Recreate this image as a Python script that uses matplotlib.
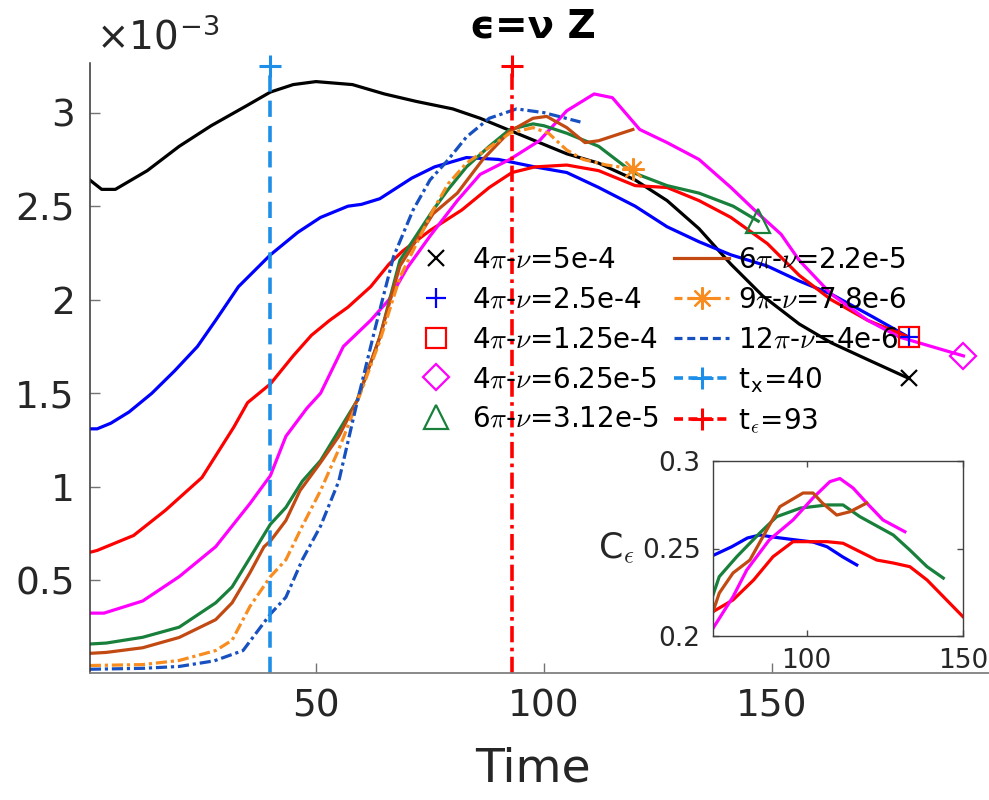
import matplotlib
matplotlib.use('Agg')
import matplotlib.pyplot as plt
from matplotlib.lines import Line2D

plt.rcParams['font.family'] = 'DejaVu Sans'
plt.rcParams['mathtext.fontset'] = 'cm'

# main panel: eps = nu Z versus time, values in units of 1e-3
t_k = [0.4, 3, 6, 13, 20, 27, 35, 40, 45, 50, 58, 65, 72, 80, 86, 92, 99, 105, 112, 120, 127, 134, 141, 148, 156, 163, 171, 180]
z_k = [2.64, 2.59, 2.59, 2.69, 2.82, 2.93, 3.04, 3.11, 3.15, 3.166, 3.15, 3.10, 3.06, 3.02, 2.97, 2.91, 2.84, 2.78, 2.73, 2.64, 2.53, 2.38, 2.19, 2.02, 1.87, 1.77, 1.68, 1.58]

t_b = [0.4, 2, 5, 9, 14, 19, 24, 28, 33, 40, 46, 51, 57, 60, 64, 71, 76, 83, 90, 98, 105, 112, 120, 127, 134, 141, 149, 156, 163, 172, 180]
z_b = [1.31, 1.31, 1.34, 1.40, 1.50, 1.62, 1.75, 1.89, 2.07, 2.24, 2.36, 2.44, 2.50, 2.51, 2.54, 2.65, 2.71, 2.76, 2.75, 2.71, 2.68, 2.60, 2.50, 2.39, 2.31, 2.24, 2.18, 2.10, 2.03, 1.91, 1.80]

t_r = [0.4, 2, 10, 17, 25, 32, 35, 40, 45, 49, 53, 57, 62, 66, 69, 75, 82, 88, 93, 98, 105, 112, 120, 127, 134, 141, 149, 156, 163, 171, 180]
z_r = [0.65, 0.66, 0.74, 0.875, 1.05, 1.32, 1.45, 1.55, 1.70, 1.81, 1.89, 1.96, 2.07, 2.19, 2.26, 2.37, 2.48, 2.60, 2.68, 2.71, 2.72, 2.69, 2.61, 2.60, 2.53, 2.44, 2.30, 2.13, 2.0, 1.89, 1.80]

t_m = [0.4, 3.5, 12, 20, 28, 35.5, 40, 43.4, 48, 51, 56, 62, 66, 70, 75, 81, 86, 92.5, 99, 105, 111, 115, 121, 127, 134, 141, 147, 152, 156, 163, 171, 178, 185, 192]
z_m = [0.325, 0.325, 0.39, 0.52, 0.68, 0.91, 1.06, 1.27, 1.42, 1.50, 1.75, 1.89, 2.0, 2.17, 2.34, 2.53, 2.67, 2.75, 2.85, 3.01, 3.10, 3.08, 2.91, 2.84, 2.75, 2.60, 2.46, 2.35, 2.21, 2.03, 1.89, 1.80, 1.75, 1.70]

t_g = [0.4, 4, 12, 20, 28, 31.6, 35.5, 40, 43.4, 47, 51, 55, 59, 64, 68.4, 75.7, 79, 83, 88, 92.5, 97.6, 100, 105, 112, 119.5, 127, 134, 141.5, 147]
z_g = [0.16, 0.165, 0.196, 0.25, 0.38, 0.465, 0.62, 0.80, 0.89, 1.03, 1.14, 1.30, 1.46, 1.80, 2.21, 2.48, 2.59, 2.71, 2.82, 2.91, 2.94, 2.93, 2.89, 2.82, 2.68, 2.61, 2.57, 2.50, 2.42]

t_br = [0.4, 4, 12, 20, 28, 31.6, 35.5, 38.6, 40, 43.4, 46.5, 51, 55, 59, 64, 68.4, 75.7, 81, 86.6, 92.5, 97.6, 100.6, 105, 109, 112, 119.5]
z_br = [0.11, 0.115, 0.14, 0.195, 0.29, 0.38, 0.54, 0.68, 0.71, 0.82, 0.98, 1.13, 1.27, 1.46, 1.80, 2.18, 2.46, 2.57, 2.75, 2.90, 2.97, 2.98, 2.92, 2.84, 2.85, 2.91]

t_o = [0.4, 12, 20, 28, 31.6, 35.5, 40, 43.4, 47, 51, 55, 59, 64, 68.4, 75.7, 79, 83, 92.5, 97.6, 101, 105, 108.6, 113.7, 119.5]
z_o = [0.045, 0.05, 0.072, 0.125, 0.18, 0.36, 0.52, 0.61, 0.79, 0.98, 1.20, 1.45, 1.78, 2.12, 2.48, 2.62, 2.73, 2.89, 2.92, 2.89, 2.80, 2.75, 2.72, 2.70]

t_db = [0.4, 12, 20, 27.7, 34, 40, 43.4, 47, 51, 55, 59, 63, 67, 71.3, 75, 78.7, 83, 88, 94, 100, 108]
z_db = [0.025, 0.03, 0.04, 0.07, 0.125, 0.32, 0.41, 0.61, 0.79, 1.03, 1.45, 1.85, 2.23, 2.48, 2.64, 2.74, 2.87, 2.97, 3.02, 3.0, 2.95]

T_X = 40
T_EPS = 93
MARK_TOP = 3.25

labels = [r'4$\pi$-$\nu$=5e-4', r'4$\pi$-$\nu$=2.5e-4', r'4$\pi$-$\nu$=1.25e-4',
          r'4$\pi$-$\nu$=6.25e-5', r'6$\pi$-$\nu$=3.12e-5', r'6$\pi$-$\nu$=2.2e-5',
          r'9$\pi$-$\nu$=7.8e-6', r'12$\pi$-$\nu$=4e-6',
          r't$_{\mathregular{x}}$=40', r't$_\epsilon$=93']

# inset: C_eps versus time
ti_b = [70, 76, 81, 85, 89, 96, 102, 106.5, 111.6, 116]
ci_b = [0.246, 0.251, 0.256, 0.2577, 0.2566, 0.255, 0.2537, 0.251, 0.2451, 0.2406]
ti_r = [70, 76.4, 83, 89.2, 95.6, 106.5, 111.6, 117, 122.4, 127.7, 133, 138.5, 143.7, 150]
ci_r = [0.2139, 0.2206, 0.232, 0.2453, 0.2539, 0.2539, 0.253, 0.2482, 0.2434, 0.2417, 0.2396, 0.232, 0.2225, 0.211]
ti_g = [70, 72, 77.6, 85, 90.4, 98, 106.5, 111.6, 117, 127.7, 133, 138.5, 143.7]
ci_g = [0.2234, 0.2339, 0.2453, 0.2589, 0.2682, 0.2731, 0.2749, 0.2749, 0.2682, 0.2577, 0.2491, 0.2396, 0.2331]
ti_m = [70, 76.4, 80.8, 88, 95.6, 102, 107.4, 110.6, 114.8, 119.2, 124.4, 131.4]
ci_m = [0.2044, 0.2224, 0.2377, 0.2549, 0.2663, 0.2789, 0.2882, 0.29, 0.2846, 0.276, 0.2663, 0.2596]
ti_br = [70, 72, 76.4, 81.8, 86, 91.4, 98.8, 102, 105, 109.6, 113.8, 119.2]
ci_br = [0.2139, 0.2245, 0.236, 0.2434, 0.2568, 0.2739, 0.2817, 0.2817, 0.276, 0.2691, 0.271, 0.276]

C_K = '#000000'
C_B = '#0000ff'
C_R = '#ff0000'
C_M = '#ff00ff'
C_G = '#19803c'
C_BR = '#c24a12'
C_O = '#f88c1f'
C_DB = '#1750c0'
C_TX = '#1e8fe8'

LW = 2.3
MEW = 1.6
ASTER = (8, 2, 0)

fig = plt.figure(figsize=(9.89, 8), dpi=100)
ax = fig.add_axes([90/989, 127/800, 899/989, 610.3/800])

ax.plot(t_k, z_k, color=C_K, lw=LW)
ax.plot(t_b, z_b, color=C_B, lw=LW)
ax.plot(t_r, z_r, color=C_R, lw=LW)
ax.plot(t_m, z_m, color=C_M, lw=LW)
ax.plot(t_g, z_g, color=C_G, lw=LW)
ax.plot(t_br, z_br, color=C_BR, lw=LW)
ax.plot(t_o, z_o, color=C_O, lw=LW, ls=(0, (3.5, 1.2, 1, 1.2)))
ax.plot(t_db, z_db, color=C_DB, lw=LW, ls=(0, (3.5, 1.2, 1, 1.2)))

# end markers
ax.plot(t_k[-1], z_k[-1], 'x', color=C_K, ms=11, mew=MEW, clip_on=False)
ax.plot(t_b[-1], z_b[-1], '+', color=C_B, ms=15, mew=MEW, clip_on=False)
ax.plot(t_r[-1], z_r[-1], 's', color=C_R, mfc='none', ms=14, mew=MEW, clip_on=False)
ax.plot(t_m[-1], z_m[-1], 'D', color=C_M, mfc='none', ms=13, mew=MEW, clip_on=False)
ax.plot(t_g[-1], z_g[-1], '^', color=C_G, mfc='none', ms=17, mew=MEW, clip_on=False)
ax.plot(t_o[-1], z_o[-1], marker=ASTER, color=C_O, ms=16, mew=MEW, clip_on=False)

ymin, ymax = 0.005, 3.267
ax.plot([T_X, T_X], [ymin, MARK_TOP], color=C_TX, lw=2.6, ls=(0, (4.5, 2.5)),
        marker='+', markevery=[1], ms=16, mew=2.2, clip_on=False)
ax.plot([T_EPS, T_EPS], [ymin, MARK_TOP], color=C_R, lw=2.6, ls=(0, (4.5, 1.5, 1, 1.5)),
        marker='+', markevery=[1], ms=16, mew=2.2, clip_on=False)

ax.set_xlim(0.44, 197.6)
ax.set_ylim(ymin, ymax)
ax.set_xticks([50, 100, 150])
ax.set_xticklabels(['50', '100', '150'])
ax.set_yticks([0.5, 1, 1.5, 2, 2.5, 3])
ax.set_yticklabels(['0.5', '1', '1.5', '2', '2.5', '3'])
ax.tick_params(direction='in', length=7, width=1, color='0.45', labelsize=27,
               labelcolor='#262626', pad=11)
for s in ['top', 'right']:
    ax.spines[s].set_visible(False)
ax.spines['left'].set_color('0.2')
ax.spines['bottom'].set_color('0.5')
ax.spines['left'].set_linewidth(1.1)
ax.spines['bottom'].set_linewidth(1.3)

ax.set_xlabel('Time', fontsize=34, color='#262626', va='baseline')
ax.xaxis.set_label_coords(0.493, (673 - 781) / 610.3)

fig.text(96/989, 1 - 50/800, r'×10$^{\mathregular{-3}}$', fontsize=28,
         color='#262626', va='baseline')
fig.text(533/989, 1 - 37/800, 'ϵ=ν Z', fontsize=28, fontweight='bold',
         ha='center', va='baseline')

handles = [
    Line2D([], [], ls='none', marker='x', color=C_K, ms=11, mew=MEW),
    Line2D([], [], ls='none', marker='+', color=C_B, ms=15, mew=MEW),
    Line2D([], [], ls='none', marker='s', color=C_R, mfc='none', ms=14, mew=MEW),
    Line2D([], [], ls='none', marker='D', color=C_M, mfc='none', ms=13, mew=MEW),
    Line2D([], [], ls='none', marker='^', color=C_G, mfc='none', ms=17, mew=MEW),
    Line2D([], [], color=C_BR, lw=LW),
    Line2D([], [], color=C_O, lw=LW, ls=(0, (2.5, 1.5)), marker=ASTER, ms=16, mew=MEW),
    Line2D([], [], color=C_DB, lw=LW, ls=(0, (2.5, 1.5))),
    Line2D([], [], color=C_TX, lw=2.6, ls=(0, (2.5, 1.5)), marker='+', ms=16, mew=2.2),
    Line2D([], [], color=C_R, lw=2.6, ls=(0, (2.5, 1.5)), marker='+', ms=16, mew=2.2),
]
fig.legend(handles, labels, ncol=2, frameon=False, fontsize=20,
           loc='upper left', bbox_to_anchor=(408/989, 1 - 246/800),
           bbox_transform=fig.transFigure, borderpad=0, borderaxespad=0,
           handlelength=2.0, handletextpad=0.3, columnspacing=0.55,
           labelspacing=0.42)

# inset
axi = fig.add_axes([713/989, (800 - 636)/800, 250/989, 175/800])
ILW = 2.3
axi.plot(ti_b, ci_b, color=C_B, lw=ILW)
axi.plot(ti_r, ci_r, color=C_R, lw=ILW)
axi.plot(ti_g, ci_g, color=C_G, lw=ILW)
axi.plot(ti_m, ci_m, color=C_M, lw=ILW)
axi.plot(ti_br, ci_br, color=C_BR, lw=ILW)
axi.set_xlim(70, 150)
axi.set_ylim(0.2, 0.3)
axi.set_xticks([100, 150])
axi.set_xticklabels(['100', '150'])
axi.set_yticks([0.2, 0.25, 0.3])
axi.set_yticklabels(['0.2', '0.25', '0.3'])
axi.tick_params(direction='in', length=4, width=1, color='0.3', top=True,
                right=True, labelsize=19, labelcolor='#262626', pad=9)
for s in axi.spines.values():
    s.set_color('0.25')
    s.set_linewidth(1.0)
axi.set_ylabel(r'C$_\epsilon$', fontsize=25, rotation=0, ha='right',
               va='center', color='#262626')
axi.yaxis.set_label_coords(-0.31, 0.5)

fig.savefig('out.png', dpi=100)
